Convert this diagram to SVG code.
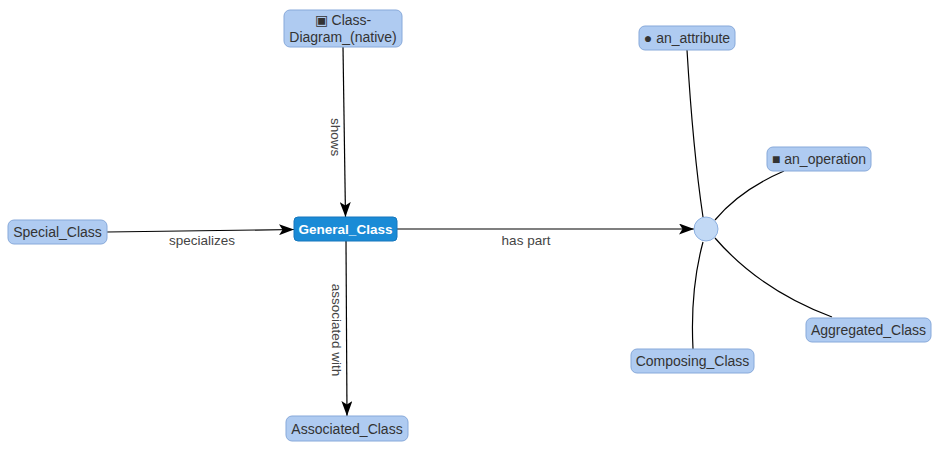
<svg xmlns="http://www.w3.org/2000/svg" width="943" height="452" viewBox="0 0 943 452">
<defs>
<marker id="arr" viewBox="0 0 15 11" refX="15" refY="5.5" markerWidth="15" markerHeight="11" markerUnits="userSpaceOnUse" orient="auto">
<path d="M0,0 L15,5.5 L0,11 L3.5,5.5 Z" fill="#000"/>
</marker>
<style>
.n rect{fill:#afcbf1;stroke:#87a9da;stroke-width:1}
.n text{font-family:"Liberation Sans",Arial,sans-serif;font-size:14px;fill:#333;text-anchor:middle}
.g rect{fill:#1a8bd6;stroke:#1677bd}
.g text{fill:#fff;font-weight:bold;font-size:13.5px}
.e{fill:none;stroke:#000;stroke-width:1.2}
.lb{font-family:"Liberation Sans",Arial,sans-serif;font-size:13.5px;fill:#444;text-anchor:middle}
</style>
</defs>
<rect width="943" height="452" fill="#fff"/>
<g id="edges">
<path class="e" d="M107,232 L294,229.5" marker-end="url(#arr)"/>
<text class="lb" x="202" y="245">specializes</text>
<path class="e" d="M343,47 L345.5,217" marker-end="url(#arr)"/>
<text class="lb" transform="translate(330.5,137) rotate(90)" x="0" y="0">shows</text>
<path class="e" d="M346,241 L347,416" marker-end="url(#arr)"/>
<text class="lb" transform="translate(331.5,330) rotate(90)" x="0" y="0">associated with</text>
<path class="e" d="M397,229 L694,229" marker-end="url(#arr)"/>
<text class="lb" x="526" y="245">has part</text>
<path class="e" d="M687,50 Q693,150 703,217"/>
<path class="e" d="M784,171 Q740,190 715,220"/>
<path class="e" d="M832,317 Q760,290 715,238"/>
<path class="e" d="M693,349 Q690,290 703,242"/>
</g>
<g id="hub"><circle cx="706" cy="229" r="12" fill="#c2d9f5" stroke="#8db0e0"/></g>
<g id="class-diagram" class="n"><rect x="284" y="10" width="118" height="37" rx="6"/><text x="343" y="25">▣ Class-</text><text x="343" y="41.5">Diagram_(native)</text></g>
<g id="special-class" class="n"><rect x="8" y="220" width="99" height="24" rx="6"/><text x="57.5" y="237">Special_Class</text></g>
<g id="general-class" class="n g"><rect x="294" y="217" width="103" height="24" rx="4"/><text x="345.5" y="234">General_Class</text></g>
<g id="associated-class" class="n"><rect x="286" y="416" width="122" height="25" rx="6"/><text x="347" y="433.5">Associated_Class</text></g>
<g id="an-attribute" class="n"><rect x="639" y="26" width="96" height="24" rx="6"/><text x="687" y="43">● an_attribute</text></g>
<g id="an-operation" class="n"><rect x="767" y="147" width="104" height="24" rx="6"/><text x="819" y="164">■ an_operation</text></g>
<g id="aggregated-class" class="n"><rect x="806" y="318" width="125" height="24" rx="6"/><text x="868.5" y="335">Aggregated_Class</text></g>
<g id="composing-class" class="n"><rect x="631" y="349" width="123" height="24" rx="6"/><text x="692.5" y="366">Composing_Class</text></g>
</svg>
